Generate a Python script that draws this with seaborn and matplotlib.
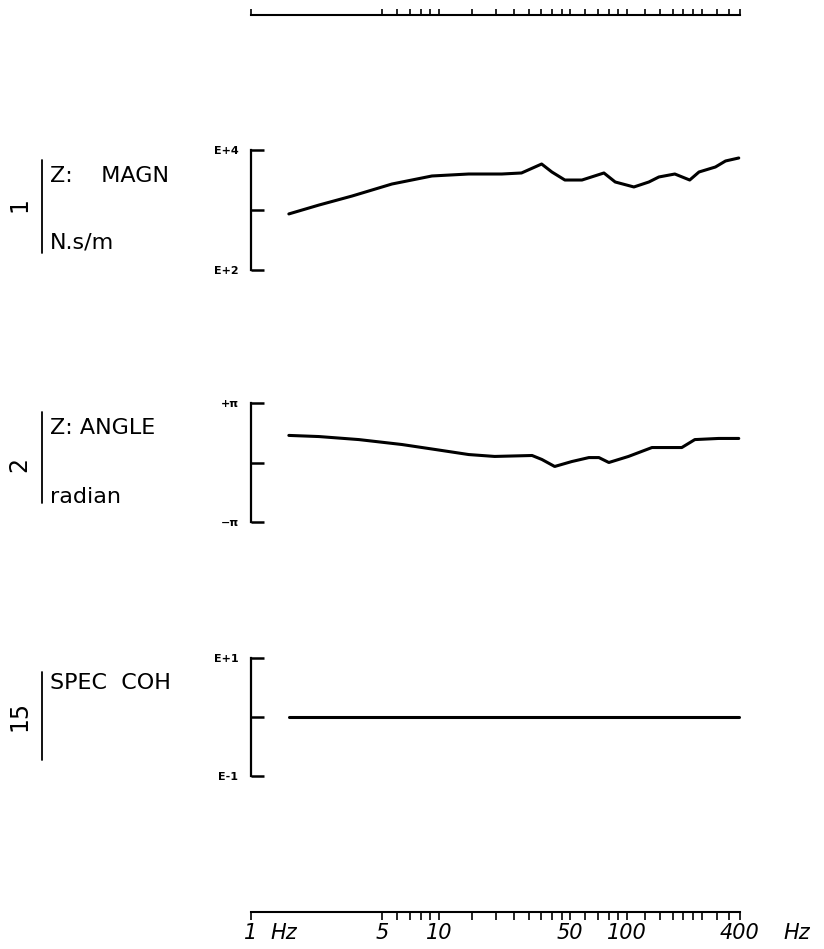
import numpy as np
import pandas as pd
import seaborn as sns
import matplotlib.pyplot as plt
from matplotlib.lines import Line2D

# channel 1: impedance magnitude (N.s/m) vs frequency (Hz)
magn_freq = [1.59, 2.30, 3.45, 5.62, 9.18, 14.4, 21.6, 27.5, 35.2, 39.9, 46.8, 57.7,
             75.5, 86.7, 109, 131, 148, 180, 216, 242, 296, 335, 394]
magn = [860, 1210, 1710, 2710, 3690, 3980, 3980, 4140, 5840, 4300, 3160, 3160,
        4140, 2930, 2420, 2930, 3550, 3980, 3160, 4300, 5210, 6560, 7360]

# channel 2: impedance angle (radian)
angle_freq = [1.59, 2.30, 3.75, 6.35, 9.51, 14.4, 19.8, 31.3, 35.3, 41.3, 50.9, 62.8,
              71.0, 80.2, 102, 136, 196, 230, 308, 394]
angle = [1.43, 1.37, 1.21, 0.95, 0.69, 0.42, 0.32, 0.37, 0.16, -0.21, 0.05, 0.26,
         0.26, 0.0, 0.32, 0.79, 0.79, 1.21, 1.27, 1.27]

# channel 15: spectral coherence
coh_freq = [1.59, 394]
coh = [1.0, 1.0]

freq_ticks = [1, 5, 6, 7, 8, 9, 10, 15, 20, 25, 30, 35, 40, 45, 50, 60, 70, 80, 90, 100,
              125, 150, 175, 200, 225, 250, 300, 350, 400]
freq_labels = {1: '1', 5: '5', 10: '10', 50: '50', 100: '100', 400: '400'}

sns.set_style('white')
plt.rcParams['font.family'] = ['DejaVu Sans']
plt.rcParams['text.color'] = 'black'
plt.rcParams['xtick.color'] = 'black'
plt.rcParams['ytick.color'] = 'black'

W, H = 824, 949
fig = plt.figure(figsize=(W / 100, H / 100), dpi=100)
X0, X1 = 251, 740


def box(top, bottom):
    return [X0 / W, 1 - bottom / H, (X1 - X0) / W, (bottom - top) / H]


def fx(px):
    return px / W


def fy(py):
    return 1 - py / H


panels = [
    dict(top=150, bottom=270, x=magn_freq, y=magn, log=True, ylim=(1e2, 1e4),
         ticks=[1e2, 1e3, 1e4], labels=['E+2', '', 'E+4']),
    dict(top=403, bottom=522, x=angle_freq, y=angle, log=False, ylim=(-np.pi, np.pi),
         ticks=[-np.pi, 0, np.pi], labels=['−π', '', '+π']),
    dict(top=658, bottom=776, x=coh_freq, y=coh, log=True, ylim=(0.1, 10),
         ticks=[0.1, 1, 10], labels=['E-1', '', 'E+1']),
]

for p in panels:
    ax = fig.add_axes(box(p['top'], p['bottom']))
    ax.set_xscale('log')
    if p['log']:
        ax.set_yscale('log')
    sns.lineplot(x=p['x'], y=p['y'], ax=ax, color='black', lw=2.2, clip_on=False)
    ax.set_xlim(1, 400)
    ax.set_ylim(*p['ylim'])
    ax.set_xticks([])
    ax.set_xticks([], minor=True)
    ax.set_yticks(p['ticks'])
    ax.set_yticks([], minor=True)
    ax.set_yticklabels(p['labels'], fontsize=8, fontweight='bold', color='black')
    ax.tick_params(axis='y', direction='in', length=9, width=1.8, pad=9, left=True)
    for s in ['top', 'right', 'bottom']:
        ax.spines[s].set_visible(False)
    ax.spines['left'].set_linewidth(1.6)
    ax.spines['left'].set_color('black')
    ax.patch.set_alpha(0)

# frequency scale at top (ticks upward)
ax_top = fig.add_axes(box(14, 15))
ax_top.set_xscale('log')
ax_top.set_xlim(1, 400)
ax_top.set_xticks(freq_ticks)
ax_top.set_xticks([], minor=True)
ax_top.set_xticklabels([])
ax_top.set_yticks([])
ax_top.tick_params(axis='x', direction='in', length=4, width=1.2, bottom=True)
for s in ['top', 'right', 'left']:
    ax_top.spines[s].set_visible(False)
ax_top.spines['bottom'].set_linewidth(1.5)
ax_top.spines['bottom'].set_color('black')
ax_top.patch.set_alpha(0)

# frequency scale at bottom (ticks downward)
ax_bot = fig.add_axes(box(911, 912))
ax_bot.set_xscale('log')
ax_bot.set_xlim(1, 400)
ax_bot.set_xticks(freq_ticks)
ax_bot.set_xticks([], minor=True)
ax_bot.set_xticklabels([freq_labels.get(t, '') for t in freq_ticks],
                       fontsize=15, fontstyle='italic', color='black')
ax_bot.set_yticks([])
ax_bot.tick_params(axis='x', direction='out', length=6, width=1.2, pad=2, bottom=True)
for s in ['top', 'right', 'left']:
    ax_bot.spines[s].set_visible(False)
ax_bot.spines['bottom'].set_linewidth(1.5)
ax_bot.spines['bottom'].set_color('black')
ax_bot.patch.set_alpha(0)
fig.text(fx(270), fy(933), 'Hz', fontsize=15, fontstyle='italic', va='center', ha='left')
fig.text(fx(783), fy(933), 'Hz', fontsize=15, fontstyle='italic', va='center', ha='left')

# channel captions on the left
captions = [
    dict(num='1', num_y=205, bar=(160, 253), lines=[('Z:    MAGN', 176), ('N.s/m', 243)]),
    dict(num='2', num_y=465, bar=(412, 503), lines=[('Z: ANGLE', 428), ('radian', 497)]),
    dict(num='15', num_y=716, bar=(672, 760), lines=[('SPEC  COH', 683)]),
]
for c in captions:
    fig.add_artist(Line2D([fx(42), fx(42)], [fy(c['bar'][0]), fy(c['bar'][1])],
                          color='black', lw=1.3))
    fig.text(fx(19), fy(c['num_y']), c['num'], rotation=90, fontsize=17,
             ha='center', va='center')
    for txt, ypx in c['lines']:
        fig.text(fx(50), fy(ypx), txt, fontsize=16, ha='left', va='center')

fig.savefig('out.png', dpi=100, facecolor='white')
